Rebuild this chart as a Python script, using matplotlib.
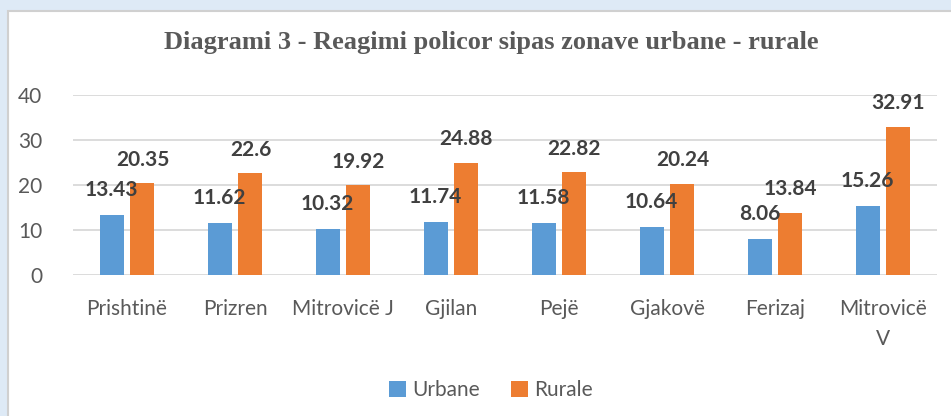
import numpy as np
import matplotlib.pyplot as plt
from matplotlib.patches import Rectangle

# te dhenat
qytetet = ['Prishtinë', 'Prizren', 'Mitrovicë J', 'Gjilan', 'Pejë', 'Gjakovë', 'Ferizaj', 'Mitrovicë\nV']
urbane = [13.43, 11.62, 10.32, 11.74, 11.58, 10.64, 8.06, 15.26]
rurale = [20.35, 22.6, 19.92, 24.88, 22.82, 20.24, 13.84, 32.91]
etiketa_urbane = ['13.43', '11.62', '10.32', '11.74', '11.58', '10.64', '8.06', '15.26']
etiketa_rurale = ['20.35', '22.6', '19.92', '24.88', '22.82', '20.24', '13.84', '32.91']

blu = '#5B9BD5'
portokalli = '#ED7D31'
gri = '#595959'
font = ['Lato', 'DejaVu Sans']

fig = plt.figure(figsize=(9.51, 4.16), dpi=100)
fig.patch.set_facecolor('#DEEAF6')
# paneli i bardhe
panel = Rectangle((8 / 951, -0.01), 1, 1.01 - 11 / 416, transform=fig.transFigure,
                  facecolor='white', edgecolor='#D0D0D0', lw=1.5, zorder=-10)
fig.add_artist(panel)

ax = fig.add_axes([73 / 951, 1 - 275 / 416, 864 / 951, 180 / 416])
ax.set_facecolor('none')

x = np.arange(len(qytetet))
w = 0.222
off = 0.143
ax.bar(x - off, urbane, w, color=blu, label='Urbane', zorder=2)
ax.bar(x + off, rurale, w, color=portokalli, label='Rurale', zorder=2)

for i in range(len(x)):
    ax.annotate(etiketa_urbane[i], (x[i] - off, urbane[i]), xytext=(0, 18), textcoords='offset points',
                ha='center', va='center', fontsize=15, fontweight='bold', color='#404040',
                family=font, zorder=3)
    ax.annotate(etiketa_rurale[i], (x[i] + off, rurale[i]), xytext=(0, 17), textcoords='offset points',
                ha='center', va='center', fontsize=15, fontweight='bold', color='#404040',
                family=font, zorder=3)

ax.set_xlim(-0.5, len(x) - 0.5)
ax.set_ylim(0, 40)
ax.set_yticks([0, 10, 20, 30, 40])
ax.yaxis.grid(True, color='#D9D9D9', lw=1.3, zorder=0)
for s in ax.spines.values():
    s.set_visible(False)
ax.tick_params(length=0)
ax.tick_params(axis='y', pad=22)
ax.tick_params(axis='x', pad=17)
ax.set_xticks(x)
ax.set_xticklabels(qytetet, fontsize=15, color=gri, family=font, linespacing=1.65)
for t in ax.get_yticklabels():
    t.set_fontsize(15)
    t.set_color(gri)
    t.set_family(font)

fig.text(491 / 951, 1 - 42 / 416, 'Diagrami 3 - Reagimi policor sipas zonave urbane - rurale',
         ha='center', va='center', fontsize=19, fontweight='bold', color=gri,
         family=['Liberation Serif', 'DejaVu Serif'])

fig.legend(loc='center', bbox_to_anchor=(491 / 951, 1 - 390 / 416), ncol=2, frameon=False,
           prop={'family': font, 'size': 15}, labelcolor=gri, handlelength=0.8, handleheight=0.8,
           handletextpad=0.3, columnspacing=1.5)

fig.savefig('out.png', dpi=100, facecolor=fig.get_facecolor())
